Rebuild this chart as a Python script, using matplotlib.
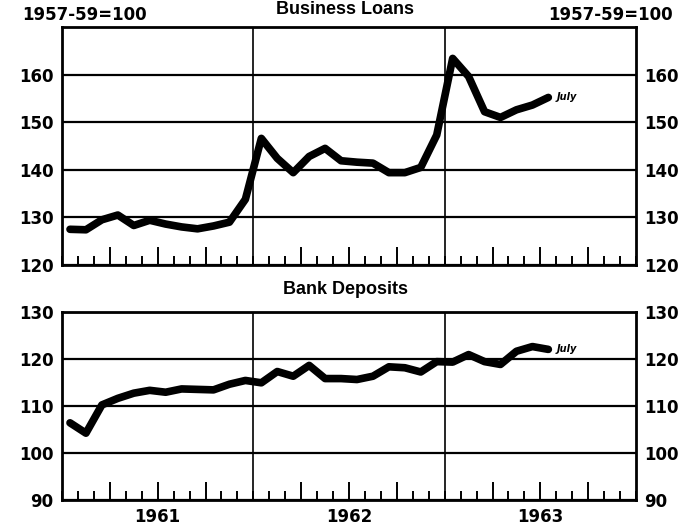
import numpy as np
import matplotlib
matplotlib.use("Agg")
import matplotlib.pyplot as plt
from matplotlib.ticker import MultipleLocator, FixedLocator

# monthly data, Jan 1961 - Jul 1963 (1957-59=100)
months = 1961 + (np.arange(31) + 0.5) / 12
loans = [127.5, 127.4, 129.5, 130.5, 128.3, 129.4, 128.6, 128.0, 127.6, 128.2, 129.0, 133.8,
         146.6, 142.4, 139.4, 142.8, 144.5, 141.9, 141.6, 141.4, 139.4, 139.4, 140.5, 147.3,
         163.4, 159.6, 152.2, 151.0, 152.6, 153.6, 155.2]
deposits = [106.4, 104.2, 110.2, 111.6, 112.7, 113.3, 112.9, 113.6, 113.5, 113.4, 114.6, 115.4,
            114.9, 117.3, 116.3, 118.6, 115.8, 115.8, 115.6, 116.3, 118.3, 118.1, 117.2, 119.4,
            119.3, 120.9, 119.4, 118.8, 121.6, 122.6, 122.0]
years = [1961, 1962, 1963]
titles = ["Business Loans", "Bank Deposits"]
base_label = "1957-59=100"

fig = plt.figure(figsize=(6.93, 5.28), dpi=100)
ax1 = fig.add_axes([0.0895, 0.4981, 0.8283, 0.4508])
ax2 = fig.add_axes([0.0895, 0.0530, 0.8283, 0.3566])

cond = ['Liberation Sans', 'DejaVu Sans']

def style(ax, lo, hi, top):
    ax.set_xlim(1961, 1964)
    ax.set_ylim(lo, hi)
    ax.set_yticks(np.arange(lo, top + 1, 10))
    ax.yaxis.grid(True, color='black', lw=1.6)
    for y in years[1:]:
        ax.axvline(y, color='black', lw=1.2)
    ax.xaxis.set_major_locator(FixedLocator([y + q / 4 for y in years for q in (1, 2, 3)]))
    ax.xaxis.set_minor_locator(MultipleLocator(1 / 12))
    ax.tick_params(axis='x', which='major', direction='in', length=13, width=1.4,
                   labelbottom=False)
    ax.tick_params(axis='x', which='minor', direction='in', length=6.5, width=1.4)
    ax.tick_params(axis='y', length=0, labelright=True, labelsize=12, pad=6)
    for lab in ax.get_yticklabels():
        lab.set_fontweight('bold')
    for s in ax.spines.values():
        s.set_linewidth(2)
    ax.set_axisbelow(True)

style(ax1, 120, 170, 160)
style(ax2, 90, 130, 130)

ax1.plot(months, loans, color='black', lw=5.5, solid_joinstyle='round', solid_capstyle='round')
ax2.plot(months, deposits, color='black', lw=5.5, solid_joinstyle='round', solid_capstyle='round')

for ax, vals in ((ax1, loans), (ax2, deposits)):
    ax.annotate("July", (months[-1], vals[-1]), xytext=(6, 0), textcoords='offset points',
                fontsize=7, fontstyle='italic', fontweight='bold', va='center')

fig.text(0.498, 0.999, titles[0], ha='center', va='top', fontsize=13,
         fontweight='bold', family=cond)
fig.text(0.498, 0.452, titles[1], ha='center', va='center', fontsize=13,
         fontweight='bold', family=cond)
fig.text(0.032, 0.972, base_label, ha='left', va='center', fontsize=12, fontweight='bold')
fig.text(0.971, 0.972, base_label, ha='right', va='center', fontsize=12, fontweight='bold')

for y in years:
    ax2.text(y + 0.5, -0.04, str(y), transform=ax2.get_xaxis_transform(),
             ha='center', va='top', fontsize=12, fontweight='bold')

fig.savefig("out.png", dpi=100)
